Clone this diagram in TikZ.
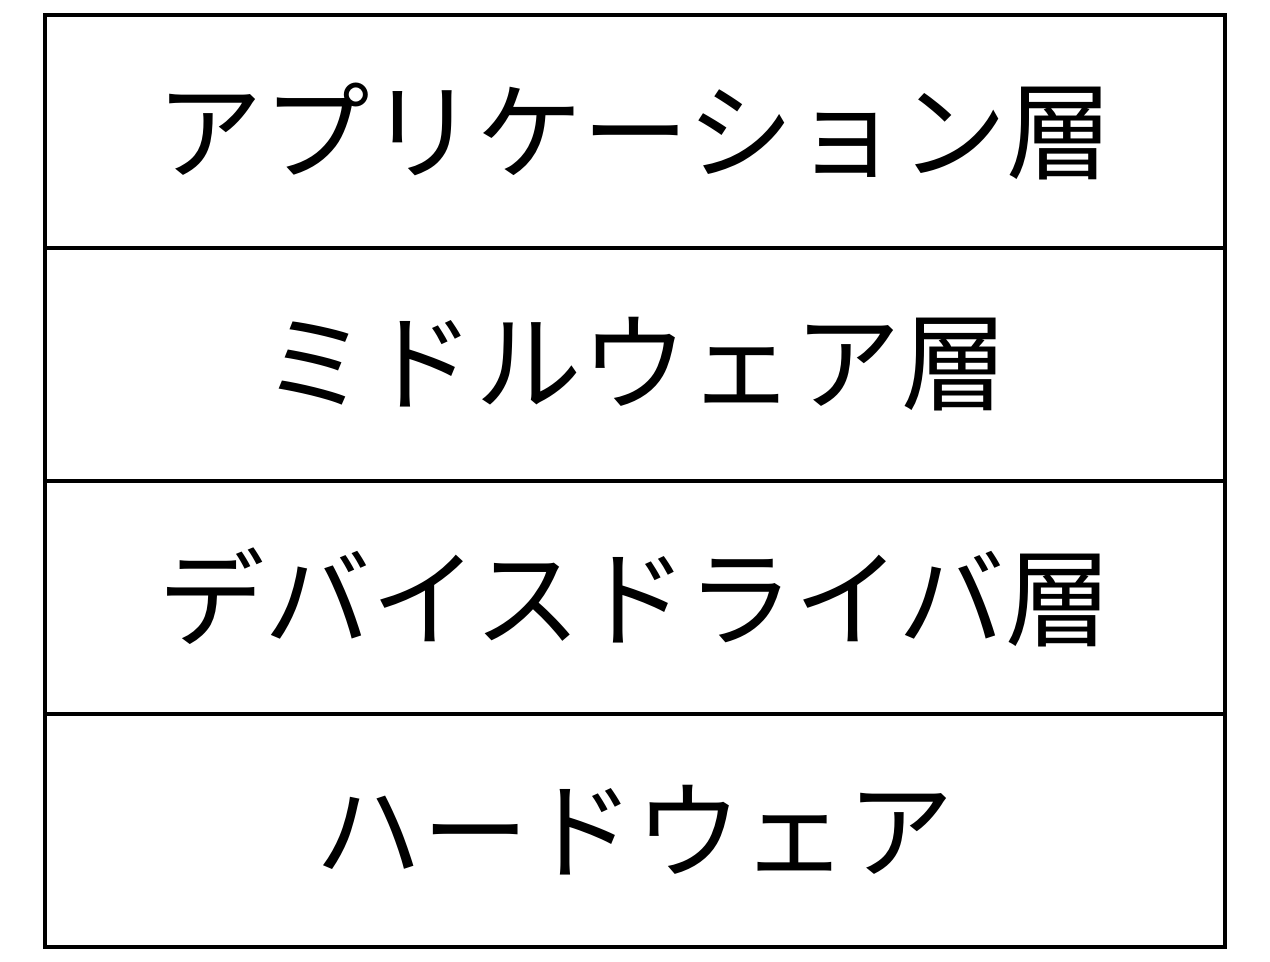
\documentclass[tikz,border=0pt]{standalone}
\usepackage{fontspec}
\newfontfamily\jpfont{Noto Sans CJK JP}
\usetikzlibrary{positioning}
\newcommand\layerWidth{11.8cm}
\newcommand\layerHeight{2.33cm}
\tikzset{
	layer/.style={draw, line width=1.1pt, minimum width=\layerWidth, minimum height=\layerHeight,
		outer sep=0pt, inner sep=0pt, font=\jpfont\fontsize{30.3}{31}\selectfont}
}
\begin{document}
\begin{tikzpicture}

		\useasboundingbox (0,0) rectangle (12.7,9.62);

		\node[layer] (app) at (6.35,8.305) {アプリケーション層};
		\node[layer, below=0pt of app] (mid) {ミドルウェア層};
		\node[layer, below=0pt of mid] (drv) {デバイスドライバ層};
		\node[layer, below=0pt of drv] (hw) {ハードウェア};

	\end{tikzpicture}
\end{document}
